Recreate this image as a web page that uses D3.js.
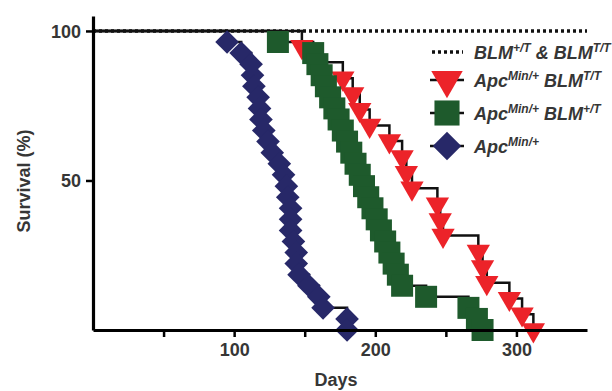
<!DOCTYPE html>
<html>
<head>
<meta charset="utf-8">
<script src="https://cdn.jsdelivr.net/npm/d3@7"></script>
<style>
  body { margin: 0; background: #fff; }
  text { font-family: "Liberation Sans", Arial, sans-serif; font-weight: bold; fill: #363636; }
</style>
</head>
<body>
<div id="plot"></div>
<script>
// Apc Min/+ (blue diamonds)
var apcDays = [95, 105, 112, 113, 114, 117, 118, 119, 121, 124, 127, 132, 135, 137, 138, 140, 140, 140, 142, 144, 144, 146, 153, 160, 163, 180, 180];
var apcSurv = [96.3, 92.6, 88.9, 85.2, 81.5, 77.8, 74.1, 70.4, 66.7, 63.0, 59.3, 55.6, 51.9, 48.1, 44.4, 40.7, 37.0, 33.3, 29.6, 25.9, 22.2, 18.5, 14.8, 11.1, 7.4, 3.7, 0];

// Apc Min/+ BLM +/T (green squares)
var hetDays = [131, 156, 159, 162, 165, 168, 171, 174, 177, 180, 183, 186, 189, 192, 195, 198, 201, 204, 207, 210, 213, 216, 219, 236, 266, 272, 276];
var hetSurv = [96.3, 92.6, 88.9, 85.2, 81.5, 77.8, 74.1, 70.4, 66.7, 63.0, 59.3, 55.6, 51.9, 48.1, 44.4, 40.7, 37.0, 33.3, 29.6, 25.9, 22.2, 18.5, 14.8, 11.1, 7.4, 3.7, 0];

// Apc Min/+ BLM T/T (red triangles)
var homDays = [148, 157, 177, 184, 189, 196, 210, 219, 222, 226, 244, 246, 248, 273, 276, 279, 295, 304, 312];
var homSurv = [94.7, 89.5, 84.2, 78.9, 73.7, 68.4, 63.2, 57.9, 52.6, 47.4, 42.1, 36.8, 31.6, 26.3, 21.1, 15.8, 10.5, 5.3, 0];

// BLM +/T & BLM T/T controls: no deaths
var ctrlDays = [0, 350];
var ctrlSurv = [100, 100];

var xTicks = [50, 100, 150, 200, 250, 300];
var xLabels = [100, 200, 300];
var yTicks = [50, 100];

var W = 612, H = 391;
var svg = d3.select("#plot").append("svg")
    .attr("width", W)
    .attr("height", H);

var x = d3.scaleLinear().domain([0, 350]).range([93, 587]);
var y = d3.scaleLinear().domain([0, 105]).range([330, 16]);

var colors = { apc: "#272868", het: "#1e5a2c", hom: "#ec2329" };

function toPoints(days, surv) {
    var pts = [[0, 100]];
    days.forEach(function(d, i) { pts.push([d, surv[i]]); });
    return pts;
}

var series = [
    { key: "hom", pts: toPoints(homDays, homSurv), shape: "tri" },
    { key: "het", pts: toPoints(hetDays, hetSurv), shape: "sq" },
    { key: "apc", pts: toPoints(apcDays, apcSurv), shape: "dia" }
];

var step = d3.line()
    .x(function(d) { return x(d[0]); })
    .y(function(d) { return y(d[1]); })
    .curve(d3.curveStepAfter);

// control dotted line
svg.append("path")
    .datum(ctrlDays.map(function(d, i) { return [d, ctrlSurv[i]]; }))
    .attr("d", step)
    .attr("fill", "none")
    .attr("stroke", "#111")
    .attr("stroke-width", 3.5)
    .attr("stroke-dasharray", "3,3");

// step lines
series.forEach(function(s) {
    svg.append("path")
        .datum(s.pts)
        .attr("d", step)
        .attr("fill", "none")
        .attr("stroke", "#111")
        .attr("stroke-width", 2.5);
});

function symPath(shape, big) {
    var k = big ? 1.35 : 1;
    if (shape === "tri") return d3.symbol().type(d3.symbolTriangle).size(235 * k * k)();
    if (shape === "sq") return d3.symbol().type(d3.symbolSquare).size(484 * (big ? 1.3 : 1))();
    return d3.symbol().type(d3.symbolSquare).size(280 * (big ? 1.45 : 1))();
}
function symRot(shape) {
    if (shape === "tri") return " rotate(180)";
    if (shape === "dia") return " rotate(45)";
    return "";
}

// markers
series.forEach(function(s) {
    svg.append("g").selectAll("path")
        .data(s.pts.slice(1))
        .enter().append("path")
        .attr("d", symPath(s.shape, false))
        .attr("transform", function(d) {
            return "translate(" + x(d[0]) + "," + y(d[1]) + ")" + symRot(s.shape);
        })
        .attr("fill", colors[s.key]);
});

// axes
var gx = svg.append("g")
    .attr("transform", "translate(0," + y(0) + ")")
    .call(d3.axisBottom(x).tickValues(xTicks).tickSize(7).tickSizeOuter(0).tickPadding(6)
        .tickFormat(function(d) { return xLabels.indexOf(d) >= 0 ? d : ""; }));
var gy = svg.append("g")
    .attr("transform", "translate(" + x(0) + ",0)")
    .call(d3.axisLeft(y).tickValues(yTicks).tickSize(7).tickSizeOuter(0).tickPadding(5));

[gx, gy].forEach(function(g) {
    g.select(".domain").attr("stroke", "#000").attr("stroke-width", 3.2);
    g.selectAll(".tick line").attr("stroke", "#000").attr("stroke-width", 2.5);
    g.selectAll(".tick text").style("font-size", "18px").style("font-family", "Liberation Sans, Arial, sans-serif")
        .style("font-weight", "bold").attr("fill", "#363636");
});
gy.selectAll(".tick text").attr("dy", "0.36em");

svg.append("text")
    .attr("x", 336)
    .attr("y", 386)
    .attr("text-anchor", "middle")
    .style("font-size", "18px")
    .text("Days");

svg.append("text")
    .attr("transform", "translate(30,181) rotate(-90)")
    .attr("text-anchor", "middle")
    .style("font-size", "18px")
    .text("Survival (%)");

// legend
var legend = [
    { shape: "dot", y: 52, parts: [["BLM", 0], ["+/T", 1], [" & BLM", 0], ["T/T", 1]] },
    { shape: "tri", key: "hom", y: 80, parts: [["Apc", 0], ["Min/+", 1], [" BLM", 0], ["T/T", 1]] },
    { shape: "sq", key: "het", y: 113, parts: [["Apc", 0], ["Min/+", 1], [" BLM", 0], ["+/T", 1]] },
    { shape: "dia", key: "apc", y: 146, parts: [["Apc", 0], ["Min/+", 1]] }
];

legend.forEach(function(l) {
    var g = svg.append("g").attr("transform", "translate(0," + l.y + ")");
    if (l.shape === "dot") {
        g.append("line").attr("x1", 432).attr("x2", 463).attr("y1", 0).attr("y2", 0)
            .attr("stroke", "#111").attr("stroke-width", 3.5).attr("stroke-dasharray", "3,3");
    } else {
        g.append("line").attr("x1", 430).attr("x2", 464).attr("y1", 0).attr("y2", 0)
            .attr("stroke", "#111").attr("stroke-width", 2.5);
        g.append("path")
            .attr("d", symPath(l.shape, true))
            .attr("transform", "translate(447,0)" + symRot(l.shape))
            .attr("fill", colors[l.key]);
    }
    var t = g.append("text")
        .attr("x", 474)
        .attr("y", 7)
        .style("font-size", "18px")
        .style("font-style", "italic");
    l.parts.forEach(function(p) {
        t.append("tspan")
            .attr("baseline-shift", p[1] ? "super" : "0")
            .style("font-size", p[1] ? "12px" : "18px")
            .text(p[0]);
    });
});
</script>
</body>
</html>
